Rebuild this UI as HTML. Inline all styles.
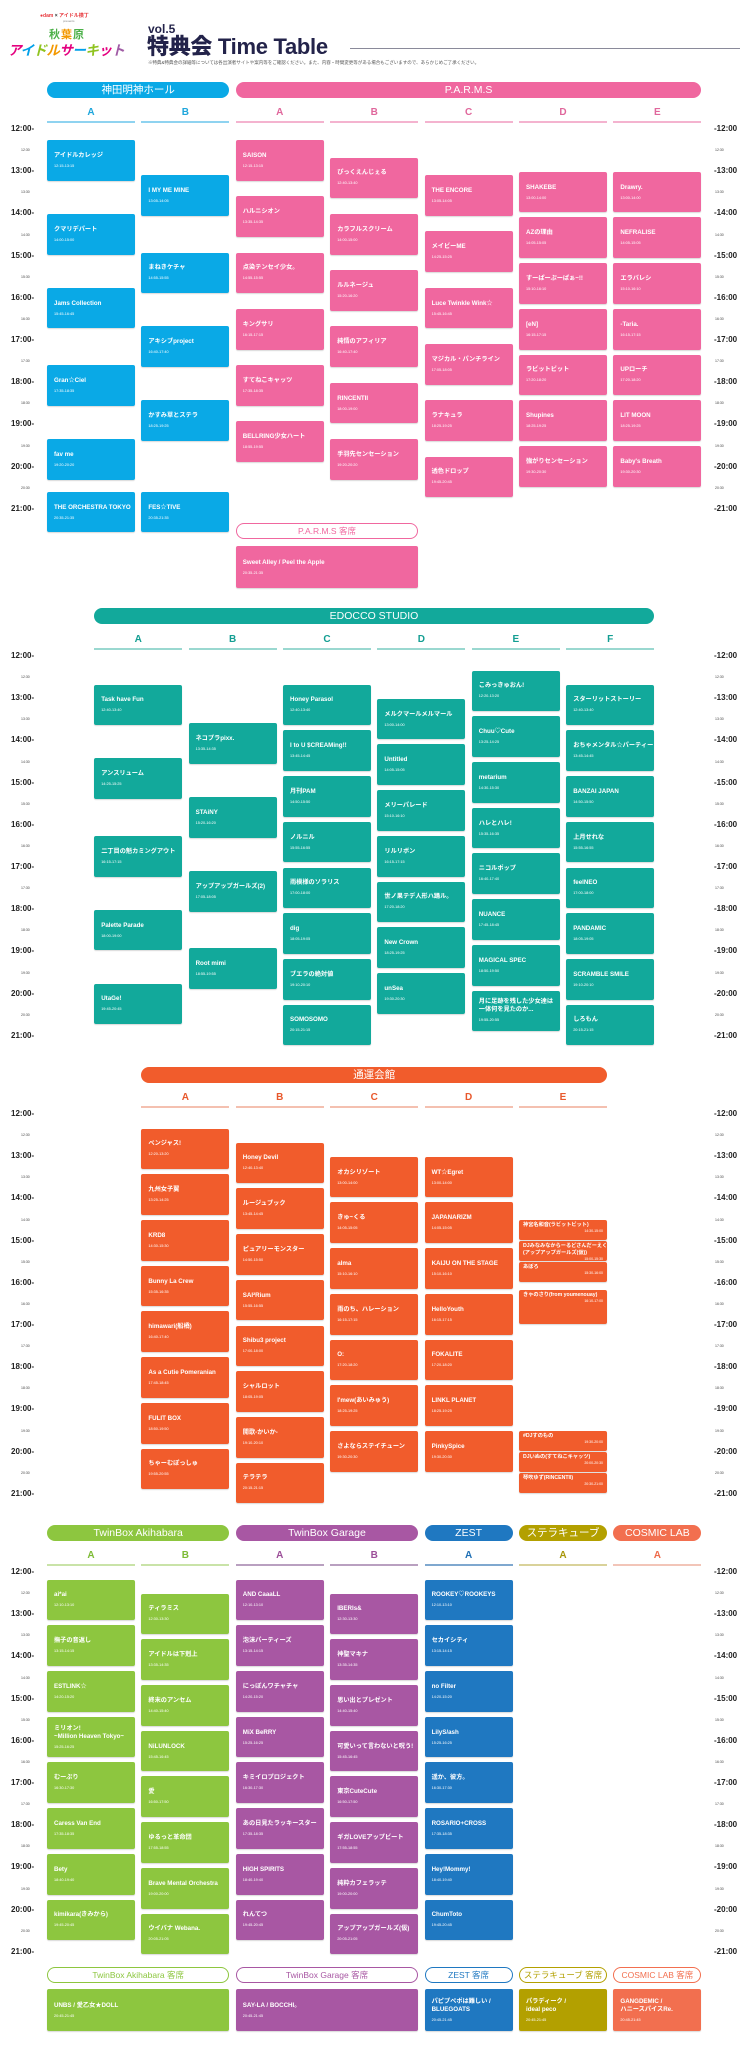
<!DOCTYPE html>
<html><head><meta charset="utf-8">
<style>
*{margin:0;padding:0;box-sizing:border-box}
body{width:748px;height:2048px;position:relative;background:#fff;font-family:"Liberation Sans","Noto Sans CJK JP",sans-serif;overflow:hidden}
.a{position:absolute}
.pill{position:absolute;height:16px;border-radius:8px;color:#fff;font-size:10.5px;text-align:center;line-height:16px;white-space:nowrap}
.opill{position:absolute;height:16px;border-radius:8px;background:#fff;font-size:8.5px;text-align:center;line-height:14px;border:1px solid;white-space:nowrap;overflow:hidden}
.let{position:absolute;width:88px;text-align:center;font-size:10px;font-weight:bold}
.ul{position:absolute;width:88px;height:2px}
.b{position:absolute;width:88px;border-radius:2px;color:#fff;padding:0 7px;display:flex;flex-direction:column;justify-content:center;box-shadow:0 1px 1px rgba(0,0,0,.15);overflow:hidden}
.b .t{font-size:6.2px;line-height:8px;white-space:nowrap;font-weight:bold}
.b .m{font-size:3.8px;line-height:6px;margin-top:3px}
.sb{position:absolute;width:88px;border-radius:2px;color:#fff;padding:2px 4px;box-shadow:0 1px 1px rgba(0,0,0,.15);overflow:hidden}
.sb .t{font-size:5.2px;line-height:7px;white-space:nowrap;font-weight:bold}
.sb .m{font-size:3.5px;text-align:right;line-height:5px}
.tl{position:absolute;font-size:8px;font-weight:bold;color:#222;line-height:8px}
.th{position:absolute;font-size:3.5px;color:#444;line-height:4px}
</style></head><body>
<div class="a" style="left:40px;top:12px;font-size:5px;font-weight:bold;color:#e8383d;white-space:nowrap">●dam <span style="color:#333">×</span> アイドル横丁</div>
<div class="a" style="left:63px;top:19px;font-size:3px;color:#888">presents</div>
<div class="a" style="left:49px;top:26px;font-size:11px;font-weight:bold;color:#4bb048;letter-spacing:1px;white-space:nowrap">秋<span style="color:#f39800">葉</span>原</div>
<div class="a" style="left:8px;top:42px;font-size:13.5px;font-weight:bold;font-style:italic;letter-spacing:-0.5px;line-height:18px;white-space:nowrap"><span style="color:#e4007f">ア</span><span style="color:#00a0e9">イ</span><span style="color:#8fc31f">ド</span><span style="color:#f39800">ル</span><span style="color:#e4007f">サ</span><span style="color:#00a0e9">ー</span><span style="color:#8fc31f">キ</span><span style="color:#e4007f">ッ</span><span style="color:#a05ba5">ト</span></div>
<div class="a" style="left:148px;top:23px;font-size:12px;font-weight:900;color:#23234a;line-height:12px">vol.5</div>
<div class="a" style="left:147px;top:35px;font-size:22px;font-weight:900;color:#23234a;letter-spacing:-.3px;line-height:24px;white-space:nowrap">特典会 Time Table</div>
<div class="a" style="left:350px;top:48px;width:390px;height:1px;background:#8a8a9a"></div>
<div class="a" style="left:148px;top:60px;font-size:4.5px;color:#555;white-space:nowrap">※特典&特典会の詳細等については各出演者サイトや案内等をご確認ください。また、内容・時間変更等がある場合もございますので、あらかじめご了承ください。</div>
<div id="root"></div>
<script>
var R=document.getElementById('root'),H='';
function cx(i){return 47+i*94.4}
var HP=42.2/60;
function times(T0){
 for(var h=12;h<=21;h++){var y=T0+(h-12)*42.2;
  H+='<div class="tl" style="left:11px;top:'+(y-4)+'px">'+h+':00-</div>';
  H+='<div class="tl" style="left:714px;top:'+(y-4)+'px">-'+h+':00</div>';
  if(h<21){var y2=y+21.1;
   H+='<div class="th" style="left:21px;top:'+(y2-2)+'px">'+h+':30</div>';
   H+='<div class="th" style="left:715px;top:'+(y2-2)+'px">'+h+':30</div>';}
 }
}
function mins(s){var p=s.split(':');return (+p[0]-12)*60+ +p[1]}
function blocks(T0,ci,col,list){
 list.forEach(function(e){var r=e[1].split('-');var a=mins(r[0]),b=mins(r[1]);
  var top=T0+a*HP+0.5,h=(b-a)*HP-1.5;
  H+='<div class="b" style="left:'+cx(ci)+'px;top:'+top+'px;height:'+h+'px;background:'+col+'"><div class="t">'+e[0]+'</div><div class="m">'+e[1]+'</div></div>';});
}
function sblocks(T0,ci,col,list){
 list.forEach(function(e){var r=e[1].split('-');var a=mins(r[0]),b=mins(r[1]);
  var top=T0+a*HP+0.5,h=(b-a)*HP-1.5;
  H+='<div class="sb" style="left:'+cx(ci)+'px;top:'+top+'px;height:'+h+'px;background:'+col+'"><div class="t">'+e[0]+'</div><div class="m">'+e[1]+'</div></div>';});
}
function head(y,ci,n,col,txt){H+='<div class="pill" style="left:'+cx(ci)+'px;top:'+y+'px;width:'+(94.4*(n-1)+88)+'px;background:'+col+'">'+txt+'</div>';}
function ohead(y,ci,n,col,txt){H+='<div class="opill" style="left:'+cx(ci)+'px;top:'+y+'px;width:'+(94.4*(n-1)+88)+'px;border-color:'+col+';color:'+col+'">'+txt+'</div>';}
function letter(T0,ci,L,col,ul){H+='<div class="let" style="left:'+cx(ci)+'px;top:'+(T0-22)+'px;color:'+col+'">'+L+'</div><div class="ul" style="left:'+cx(ci)+'px;top:'+(T0-8)+'px;background:'+ul+'"></div>';}
function big(y,ci,n,col,t,m,hh){H+='<div class="b" style="left:'+cx(ci)+'px;top:'+y+'px;width:'+(94.4*(n-1)+88)+'px;height:'+(hh||42)+'px;background:'+col+'"><div class="t">'+t+'</div><div class="m">'+m+'</div></div>';}

var T=129,BL='#0aa9e6',PK='#f0679f';
head(82,0,2,BL,'神田明神ホール');head(82,2,5,PK,'P.A.R.M.S');
['A','B'].forEach(function(L,i){letter(T,i,L,'#1ea6dc','#8fd3f0')});
['A','B','C','D','E'].forEach(function(L,i){letter(T,i+2,L,'#e0679c','#f4b3cf')});
times(T);
blocks(T,0,BL,[['アイドルカレッジ','12:15-13:15'],['クマリデパート','14:00-15:00'],['Jams Collection','15:45-16:45'],['Gran☆Ciel','17:35-18:35'],['fav me','19:20-20:20'],['THE ORCHESTRA TOKYO','20:35-21:35']]);
blocks(T,1,BL,[['I MY ME MINE','13:05-14:05'],['まねきケチャ','14:55-15:55'],['アキシブproject','16:40-17:40'],['かすみ草とステラ','18:25-19:25'],['FES☆TIVE','20:35-21:35']]);
blocks(T,2,PK,[['SAISON','12:15-13:15'],['ハルニシオン','13:35-14:35'],['点染テンセイ少女。','14:55-15:55'],['キングサリ','16:15-17:15'],['すてねこキャッツ','17:35-18:35'],['BELLRING少女ハート','18:55-19:55']]);
blocks(T,3,PK,[['ぴっくえんじぇる','12:40-13:40'],['カラフルスクリーム','14:00-15:00'],['ルルネージュ','15:20-16:20'],['純情のアフィリア','16:40-17:40'],['RINCENTII','18:00-19:00'],['手羽先センセーション','19:20-20:20']]);
blocks(T,4,PK,[['THE ENCORE','13:05-14:05'],['メイビーME','14:25-15:25'],['Luce Twinkle Wink☆','15:45-16:45'],['マジカル・パンチライン','17:05-18:05'],['ラナキュラ','18:25-19:25'],['透色ドロップ','19:45-20:45']]);
blocks(T,5,PK,[['SHAKEBE','13:00-14:00'],['AZの理由','14:05-15:05'],['すーぱーぷーぱぁ~!!','15:10-16:10'],['[eN]','16:15-17:15'],['ラビットビット','17:20-18:20'],['Shupines','18:25-19:25'],['強がりセンセーション','19:30-20:30']]);
blocks(T,6,PK,[['Drawry.','13:00-14:00'],['NEFRALISE','14:05-15:05'],['エラバレシ','15:10-16:10'],['-Taria.','16:15-17:15'],['UPローチ','17:20-18:20'],['LIT MOON','18:25-19:25'],["Baby's Breath",'19:30-20:30']]);
ohead(523,2,2,PK,'P.A.R.M.S 客席');
big(546,2,2,PK,'Sweet Alley / Peel the Apple','20:35-21:35');

T=656;var TE='#12a99b';
H+='<div class="pill" style="left:94px;top:608px;width:560px;background:'+TE+'">EDOCCO STUDIO</div>';
['A','B','C','D','E','F'].forEach(function(L,i){letter(T,i+0.5,L,'#139e92','#9ad8d0')});
times(T);
blocks(T,0.5,TE,[['Task have Fun','12:40-13:40'],['アンスリューム','14:25-15:25'],['二丁目の魁カミングアウト','16:15-17:15'],['Palette Parade','18:00-19:00'],['UtaGe!','19:45-20:45']]);
blocks(T,1.5,TE,[['ネコプラpixx.','13:35-14:35'],['STAiNY','15:20-16:20'],['アップアップガールズ(2)','17:05-18:05'],['Root mimi','18:55-19:55']]);
blocks(T,2.5,TE,[['Honey Parasol','12:40-13:40'],['I to U $CREAMing!!','13:45-14:45'],['月刊PAM','14:50-15:50'],['ノルニル','15:55-16:55'],['雨模様のソラリス','17:00-18:00'],['dig','18:05-19:05'],['ブエラの絶対値','19:10-20:10'],['SOMOSOMO','20:15-21:15']]);
blocks(T,3.5,TE,[['メルクマールメルマール','13:00-14:00'],['Untitled','14:05-15:05'],['メリーパレード','15:10-16:10'],['リルリボン','16:15-17:15'],['世ノ果テデ人形ハ踊ル。','17:20-18:20'],['New Crown','18:25-19:25'],['unSea','19:30-20:30']]);
blocks(T,4.5,TE,[['こみっきゅおん!','12:20-13:20'],['Chuu♡Cute','13:25-14:25'],['metarium','14:30-15:30'],['ハレとハレ!','15:35-16:35'],['ニコルポップ','16:40-17:40'],['NUANCE','17:45-18:45'],['MAGICAL SPEC','18:50-19:50'],['月に足跡を残した少女達は<br>一体何を見たのか...','19:55-20:55']]);
blocks(T,5.5,TE,[['スターリットストーリー','12:40-13:40'],['おちゃメンタル☆パーティー','13:45-14:45'],['BANZAI JAPAN','14:50-15:50'],['上月せれな','15:55-16:55'],['feelNEO','17:00-18:00'],['PANDAMIC','18:05-19:05'],['SCRAMBLE SMILE','19:10-20:10'],['しろもん','20:15-21:15']]);

T=1114;var OR='#f15c2c';
head(1067,1,5,OR,'通運会館');
['A','B','C','D','E'].forEach(function(L,i){letter(T,i+1,L,'#e8582c','#f4c0b0')});
times(T);
blocks(T,1,OR,[['ベンジャス!','12:20-13:20'],['九州女子翼','13:25-14:25'],['KRD8','14:30-15:30'],['Bunny La Crew','15:35-16:35'],['himawari(船橋)','16:40-17:40'],['As a Cutie Pomeranian','17:45-18:45'],['FULIT BOX','18:50-19:50'],['ちゃーむぽっしゅ','19:55-20:55']]);
blocks(T,2,OR,[['Honey Devil','12:40-13:40'],['ルージュブック','13:45-14:45'],['ピュアリーモンスター','14:50-15:50'],['SAI²Rium','15:55-16:55'],['Shibu3 project','17:00-18:00'],['シャルロット','18:05-19:05'],['開歌-かいか-','19:10-20:10'],['テラテラ','20:15-21:15']]);
blocks(T,3,OR,[['オカシリゾート','13:00-14:00'],['きゅ~くる','14:05-15:05'],['alma','15:10-16:10'],['雨のち、ハレーション','16:15-17:15'],['O:','17:20-18:20'],["I'mew(あいみゅう)",'18:25-19:25'],['さよならステイチューン','19:30-20:30']]);
blocks(T,4,OR,[['WT☆Egret','13:00-14:00'],['JAPANARIZM','14:05-15:05'],['KAIJU ON THE STAGE','15:10-16:10'],['HelloYouth','16:15-17:15'],['FOKALITE','17:20-18:20'],['LINKL PLANET','18:25-19:25'],['PinkySpice','19:30-20:30']]);
sblocks(T,5,OR,[['神宮名和音(ラビットビット)','14:30-15:00'],['DJみなみなからーるどさんだーえくすとらDX<br>(アップアップガールズ(仮))','15:00-15:30'],['あぼろ','15:30-16:00'],['きゃのさり(from youmenouay)','16:10-17:00'],['#DJすのもの','19:30-20:00'],['DJいぬの(すてねこキャッツ)','20:00-20:30'],['琴吹ゆず(RINCENTII)','20:30-21:00']]);

T=1572;var GR='#8dc63f',PU='#a857a3',ZB='#1f78c1',OL='#b3a000',CO='#f26f4f';
head(1525,0,2,GR,'TwinBox Akihabara');head(1525,2,2,PU,'TwinBox Garage');head(1525,4,1,ZB,'ZEST');head(1525,5,1,OL,'ステラキューブ');head(1525,6,1,CO,'COSMIC LAB');
letter(T,0,'A','#7dbb35','#c9e3a8');letter(T,1,'B','#7dbb35','#c9e3a8');letter(T,2,'A','#9c4f99','#b9a0c0');letter(T,3,'B','#9c4f99','#b9a0c0');letter(T,4,'A','#1f70b5','#7fa8cf');letter(T,5,'A','#a8960a','#d9d29a');letter(T,6,'A','#ee6a4a','#f2c5b8');
times(T);
blocks(T,0,GR,[['ai*ai','12:10-13:10'],['撫子の音返し','13:15-14:15'],['ESTLINK☆','14:20-15:20'],['ミリオン!<br>~Million Heaven Tokyo~','15:25-16:25'],['むーぷり','16:30-17:30'],['Caress Van End','17:35-18:35'],['Bety','18:40-19:40'],['kimikara(きみから)','19:45-20:45']]);
blocks(T,1,GR,[['ティラミス','12:30-13:30'],['アイドルは下剋上','13:35-14:35'],['終末のアンセム','14:40-15:40'],['NiLUNLOCK','15:45-16:45'],['愛','16:50-17:50'],['ゆるっと革命団','17:55-18:55'],['Brave Mental Orchestra','19:00-20:00'],['ウイバナ Webana.','20:05-21:05']]);
blocks(T,2,PU,[['AND CaaaLL','12:10-13:10'],['泡沫パーティーズ','13:15-14:15'],['にっぽんワチャチャ','14:20-15:20'],['MiX BeRRY','15:25-16:25'],['キミイロプロジェクト','16:30-17:30'],['あの日見たラッキースター','17:35-18:35'],['HIGH SPIRITS','18:40-19:40'],['れんてつ','19:45-20:45']]);
blocks(T,3,PU,[['IBERIs&','12:30-13:30'],['神聖マキナ','13:35-14:35'],['思い出とプレゼント','14:40-15:40'],['可愛いって言わないと呪う!','15:45-16:45'],['東京CuteCute','16:50-17:50'],['ギガLOVEアップビート','17:55-18:55'],['純粋カフェラッテ','19:00-20:00'],['アップアップガールズ(仮)','20:05-21:05']]);
blocks(T,4,ZB,[['ROOKEY♡ROOKEYS','12:10-13:10'],['セカイシティ','13:15-14:15'],['no Filter','14:20-15:20'],['LilyS/ash','15:25-16:25'],['遥か、彼方。','16:30-17:30'],['ROSARIO+CROSS','17:35-18:35'],['Hey!Mommy!','18:40-19:40'],['ChumToto','19:45-20:45']]);
ohead(1967,0,2,GR,'TwinBox Akihabara 客席');ohead(1967,2,2,PU,'TwinBox Garage 客席');ohead(1967,4,1,ZB,'ZEST 客席');ohead(1967,5,1,OL,'ステラキューブ 客席');ohead(1967,6,1,CO,'COSMIC LAB 客席');
big(1989,0,2,GR,'UNBS / 愛乙女★DOLL','20:45-21:45');big(1989,2,2,PU,'SAY-LA / BOCCHI。','20:45-21:45');big(1989,4,1,ZB,'パピプペポは難しい /<br>BLUEGOATS','20:45-21:45');big(1989,5,1,OL,'パラディーク /<br>ideal peco','20:45-21:45');big(1989,6,1,CO,'GANGDEMIC /<br>ハニースパイスRe.','20:45-21:45');
R.innerHTML=H;
</script>
</body></html>
